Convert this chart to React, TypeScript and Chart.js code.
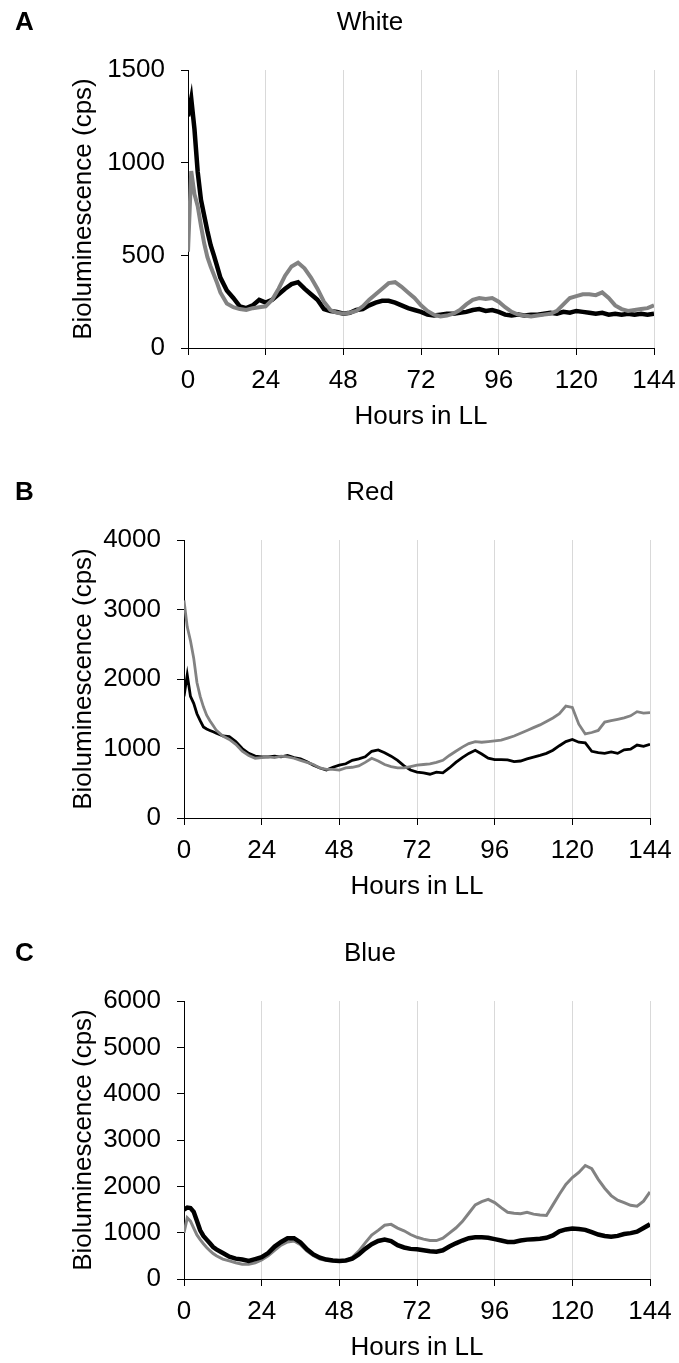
import React, { useEffect, useRef } from "react";
import { Chart, registerables } from "chart.js";

Chart.register(...registerables);

const FONT = "'Liberation Sans', Arial, Helvetica, sans-serif";
const FS = 26;

// Hours in LL (x values shared by every series)
const hours = [
  0, 1, 2, 3, 4, 5, 6, 7, 8, 9, 10,
  12, 14, 16, 18, 20, 22, 24, 26, 28, 30,
  32, 34, 36, 38, 40, 42, 44, 46, 48, 50,
  52, 54, 56, 58, 60, 62, 64, 66, 68, 70,
  72, 74, 76, 78, 80, 82, 84, 86, 88, 90,
  92, 94, 96, 98, 100, 102, 104, 106, 108, 110,
  112, 114, 116, 118, 120, 122, 124, 126, 128, 130,
  132, 134, 136, 138, 140, 142, 144,
];

const xTicks = [0, 24, 48, 72, 96, 120, 144];

// Panel A – White
const whiteBlack = [
  1250, 1345, 1180, 950, 800, 715, 630, 555, 500, 440, 380,
  310, 270, 225, 215, 230, 260, 245, 260, 290, 320,
  345, 355, 320, 290, 260, 210, 200, 195, 185, 190,
  205, 210, 230, 245, 255, 255, 245, 230, 215, 205,
  195, 180, 175, 180, 185, 185, 190, 195, 205, 210,
  200, 205, 195, 180, 175, 180, 175, 180, 180, 185,
  190, 185, 195, 190, 200, 195, 190, 185, 190, 180,
  185, 180, 185, 180, 185, 180, 185,
];
const whiteGray = [
  520, 955, 830, 765, 660, 565, 490, 440, 395, 350, 300,
  240, 220, 210, 205, 215, 220, 225, 260, 320, 390,
  440, 460, 430, 380, 320, 250, 205, 190, 185, 190,
  200, 225, 260, 290, 320, 350, 355, 330, 300, 270,
  230, 200, 180, 170, 175, 185, 205, 235, 260, 270,
  265, 270, 250, 220, 195, 180, 175, 170, 175, 180,
  185, 200, 235, 270, 280, 290, 290, 285, 300, 270,
  230, 210, 200, 205, 210, 215, 230,
];

// Panel B – Red
const redBlack = [
  1750, 2060, 1750, 1650, 1500, 1400, 1310, 1280, 1260, 1240, 1220,
  1180, 1170, 1100, 1000, 930, 890, 880, 880, 890, 880,
  900, 870, 850, 810, 760, 720, 690, 730, 760, 780,
  830, 850, 880, 960, 980, 940, 890, 830, 750, 690,
  660, 650, 630, 660, 650, 720, 800, 870, 930, 975,
  920, 860, 840, 840, 835, 810, 820, 850, 875, 900,
  930, 975, 1040, 1100, 1130, 1090, 1080, 960, 940, 930,
  950, 930, 980, 990, 1050, 1030, 1060,
];
const redGray = [
  3130, 2750, 2550, 2300, 1950, 1750, 1600, 1480, 1400, 1330, 1260,
  1180, 1130, 1060, 960, 900, 860, 870, 880, 870, 890,
  880, 860, 830, 800, 770, 720, 700, 700, 690, 720,
  730, 750, 800, 860, 820, 770, 740, 720, 720, 740,
  760, 770, 780, 800, 830, 900, 960, 1020, 1070, 1100,
  1090, 1100, 1110, 1120, 1150, 1180, 1220, 1260, 1300, 1340,
  1390, 1440, 1500, 1610, 1590, 1350, 1210, 1230, 1260, 1380,
  1400, 1420, 1440, 1470, 1530, 1510, 1515,
];

// Panel C – Blue
const blueBlack = [
  1500, 1540, 1530, 1450, 1250, 1050, 930, 850, 770, 690, 640,
  560, 480, 440, 420, 390, 430, 470, 560, 700, 800,
  880, 880, 790, 640, 530, 460, 420, 400, 390, 400,
  440, 530, 650, 750, 820, 850, 820, 730, 680, 650,
  640, 620, 600, 590, 620, 700, 770, 830, 880, 900,
  900, 890, 860, 830, 800, 800, 830, 850, 860, 870,
  890, 940, 1030, 1070, 1090, 1080, 1060, 1010, 960, 930,
  910, 930, 970, 990, 1020, 1100, 1180,
];
const blueGray = [
  1000, 1320, 1250, 1100, 950, 850, 760, 680, 610, 550, 500,
  430, 390, 350, 320, 320, 350, 410, 500, 620, 730,
  800, 820, 740, 600, 500, 430, 400, 390, 390, 400,
  470, 600, 780, 950, 1050, 1160, 1180, 1100, 1040, 960,
  900, 860, 830, 830, 880, 990, 1100, 1240, 1420, 1600,
  1670, 1720, 1650, 1540, 1440, 1420, 1410, 1440, 1400, 1380,
  1370, 1600, 1830, 2040, 2190, 2300, 2450, 2380, 2150, 1960,
  1800, 1700, 1650, 1590, 1570, 1680, 1880,
];

const CANVAS_W = 679;
const CANVAS_H = 432;
const PLOT_TOP = 70;
const PLOT_H = 278;
const PAD_LEFT = 60;

const headerPlugin = {
  id: "panelHeader",
  afterDraw(chart: any, _args: any, opts: any) {
    const ctx = chart.ctx;
    ctx.save();
    ctx.fillStyle = "#000";
    ctx.textBaseline = "middle";
    ctx.font = `bold ${FS}px ${FONT}`;
    ctx.textAlign = "left";
    ctx.fillText(opts.letter, 15, 23);
    ctx.font = `${FS}px ${FONT}`;
    ctx.textAlign = "center";
    ctx.fillText(opts.title, 370, 23);
    ctx.restore();
  },
};

type PanelProps = {
  top: number;
  letter: string;
  title: string;
  plotLeft: number;
  plotRight: number;
  yMax: number;
  yStep: number;
  black: number[];
  gray: number[];
  blackWidth: number;
  grayWidth: number;
  grayOnTop: boolean;
};

function Panel(p: PanelProps) {
  const ref = useRef<HTMLCanvasElement | null>(null);
  useEffect(() => {
    if (!ref.current) return;
    const toPts = (arr: number[]) => hours.map((h, i) => ({ x: h, y: arr[i] }));
    const blackDs = {
      label: "Black",
      data: toPts(p.black),
      borderColor: "#000000",
      borderWidth: p.blackWidth,
      pointRadius: 0,
      tension: 0,
      fill: false,
    };
    const grayDs = {
      label: "Gray",
      data: toPts(p.gray),
      borderColor: "#828282",
      borderWidth: p.grayWidth,
      pointRadius: 0,
      tension: 0,
      fill: false,
    };
    const datasets = p.grayOnTop ? [grayDs, blackDs] : [blackDs, grayDs];
    const chart = new Chart(ref.current, {
      type: "line",
      data: { datasets },
      plugins: [headerPlugin],
      options: {
        animation: false,
        responsive: false,
        devicePixelRatio: 1,
        layout: {
          padding: { top: PLOT_TOP, left: PAD_LEFT, right: CANVAS_W - p.plotRight, bottom: 0 },
        },
        plugins: {
          legend: { display: false },
          tooltip: { enabled: false },
          title: { display: false },
          panelHeader: { letter: p.letter, title: p.title },
        } as any,
        scales: {
          x: {
            type: "linear",
            min: 0,
            max: 144,
            afterFit: (s: any) => {
              s.height = CANVAS_H - PLOT_TOP - PLOT_H;
              s.paddingLeft = 0;
              s.paddingRight = 0;
            },
            afterBuildTicks: (s: any) => {
              s.ticks = xTicks.map((v) => ({ value: v }));
            },
            ticks: {
              color: "#000",
              padding: 10,
              maxRotation: 0,
              autoSkip: false,
              font: { family: FONT, size: FS },
              callback: (v: any) => String(v),
            },
            grid: {
              color: "#d9d9d9",
              tickColor: "#000",
              tickLength: 7,
              lineWidth: 1,
              drawOnChartArea: true,
            },
            border: { display: true, color: "#000", width: 1 },
            title: {
              display: true,
              text: "Hours in LL",
              color: "#000",
              padding: 0,
              font: { family: FONT, size: FS },
            },
          },
          y: {
            type: "linear",
            min: 0,
            max: p.yMax,
            afterFit: (s: any) => {
              s.width = p.plotLeft - PAD_LEFT;
              s.paddingTop = 0;
              s.paddingBottom = 0;
            },
            ticks: {
              stepSize: p.yStep,
              color: "#000",
              padding: 16,
              font: { family: FONT, size: FS },
              callback: (v: any) => String(v),
            },
            grid: {
              drawOnChartArea: false,
              color: "#000",
              tickColor: "#000",
              tickLength: 7,
            },
            border: { display: true, color: "#000", width: 1 },
            title: {
              display: true,
              text: "Bioluminescence (cps)",
              color: "#000",
              padding: { top: 8, bottom: 0 },
              font: { family: FONT, size: FS },
            },
          },
        },
      } as any,
    });
    return () => chart.destroy();
  }, []);
  return (
    <canvas
      ref={ref}
      width={CANVAS_W}
      height={CANVAS_H}
      style={{ position: "absolute", left: 0, top: p.top, width: CANVAS_W, height: CANVAS_H }}
    />
  );
}

export default function App() {
  return (
    <div
      style={{
        position: "absolute",
        left: 0,
        top: 0,
        width: 679,
        height: 1363,
        background: "#fff",
        overflow: "hidden",
      }}
    >
      <Panel top={0} letter="A" title="White" plotLeft={188} plotRight={654} yMax={1500} yStep={500}
        black={whiteBlack} gray={whiteGray} blackWidth={4.5} grayWidth={4} grayOnTop={true} />
      <Panel top={470} letter="B" title="Red" plotLeft={184} plotRight={650} yMax={4000} yStep={1000}
        black={redBlack} gray={redGray} blackWidth={2.8} grayWidth={2.8} grayOnTop={true} />
      <Panel top={931} letter="C" title="Blue" plotLeft={184} plotRight={650} yMax={6000} yStep={1000}
        black={blueBlack} gray={blueGray} blackWidth={4.5} grayWidth={3} grayOnTop={false} />
    </div>
  );
}
